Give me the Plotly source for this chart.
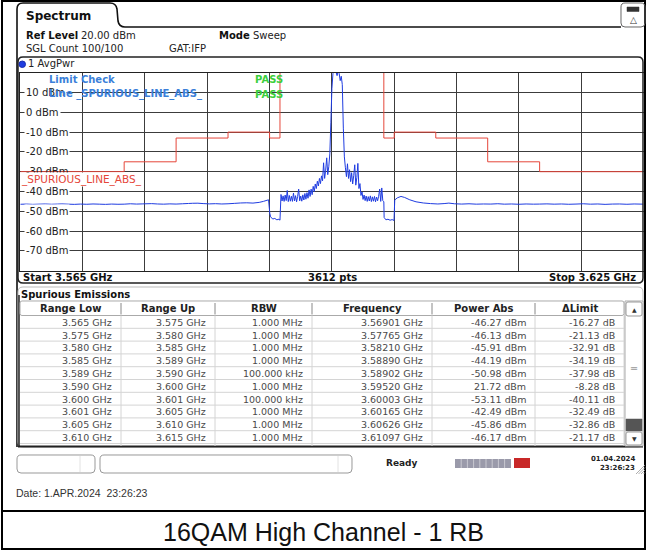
import plotly.graph_objects as go

W, H = 646, 550

# ---------------- data ----------------
freq_start_ghz = 3.565
freq_stop_ghz = 3.625
y_top_dbm = 20
y_bottom_dbm = -80
y_tick_values = [10, 0, -10, -20, -30, -40, -50, -60, -70]
y_tick_labels = ["10 dBm", "0 dBm", "-10 dBm", "-20 dBm", "-30 dBm",
                 "-40 dBm", "-50 dBm", "-60 dBm", "-70 dBm"]

limit_freq_ghz = [3.565, 3.575, 3.580, 3.585, 3.589, 3.590, 3.600, 3.601,
                  3.605, 3.610, 3.615, 3.625]
limit_level_dbm = [-30, -25, -13, -10, -13, 30, -13, -10, -13, -25, -30, -30]

# trace (GHz / dBm)
trace_freq_ghz = [
    3.5650, 3.5656, 3.5662, 3.5668, 3.5674, 3.5680, 3.5686, 3.56901, 3.5696, 3.5702,
    3.5708, 3.5714, 3.5720, 3.5726, 3.5732, 3.5738, 3.5744, 3.5750, 3.5756, 3.5762,
    3.5768, 3.57765, 3.5782, 3.5788, 3.5794, 3.5800, 3.5806, 3.5812, 3.5816, 3.58210,
    3.5826, 3.5832, 3.5838, 3.5844, 3.5850, 3.5856, 3.5862, 3.5868, 3.5874, 3.5880,
    3.5884, 3.58890,
    3.58902, 3.5891, 3.5893, 3.5895, 3.5897, 3.5899, 3.5900,
    3.5901, 3.5902, 3.5903, 3.5904, 3.5905, 3.5906, 3.5907, 3.5908, 3.5909, 3.5910,
    3.5911, 3.5912, 3.5913, 3.5914, 3.5915, 3.5916, 3.5917, 3.5918, 3.5919, 3.5920,
    3.5921, 3.5922, 3.5923, 3.5924, 3.5925, 3.5926, 3.5927, 3.5928, 3.5929, 3.5930,
    3.5931, 3.5932, 3.5933, 3.5934, 3.5935, 3.5936, 3.5937, 3.5938, 3.5939, 3.5940,
    3.5941, 3.5942, 3.5943, 3.5944, 3.5945, 3.5946, 3.5947,
    3.5948, 3.5949, 3.5950, 3.5951, 3.5952, 3.5953, 3.5954, 3.5955, 3.5956, 3.5957,
    3.5958, 3.5959, 3.5960, 3.5961, 3.5962,
    3.5963, 3.5964, 3.5965, 3.5966, 3.5967, 3.5968, 3.5969, 3.5970, 3.5971, 3.5972,
    3.5973, 3.5974, 3.5975, 3.5976, 3.5977, 3.5978, 3.5979, 3.5980, 3.5981, 3.5982,
    3.5983, 3.5984, 3.5985, 3.5986, 3.5987, 3.5988, 3.5989, 3.5990, 3.5991, 3.5992,
    3.5993, 3.5994, 3.5995, 3.5996, 3.5997, 3.5998, 3.5999, 3.6000,
    3.60003, 3.6002, 3.6004, 3.6006, 3.6008, 3.60098,
    3.60105, 3.6013, 3.60165, 3.6020, 3.6025, 3.6031, 3.6038, 3.6045, 3.6052, 3.6058,
    3.60626, 3.6068, 3.6075, 3.6082, 3.6089, 3.6096, 3.6103, 3.61097, 3.6116, 3.6123,
    3.6130, 3.6137, 3.6144, 3.6150, 3.6157, 3.6164, 3.6171, 3.6178, 3.6185, 3.6192,
    3.6199, 3.6206, 3.6213, 3.6220, 3.6227, 3.6234, 3.6241, 3.6250,
]
trace_level_dbm = [
    -46.45, -46.35, -46.50, -46.40, -46.30, -46.45, -46.35, -46.27, -46.40, -46.50,
    -46.35, -46.45, -46.30, -46.40, -46.50, -46.35, -46.45, -46.40, -46.20, -46.35,
    -46.25, -46.13, -46.30, -46.40, -46.25, -46.35, -46.20, -46.05, -45.95, -45.91,
    -46.10, -46.25, -46.15, -46.30, -46.20, -46.00, -45.80, -45.70, -45.85, -45.50,
    -45.00, -44.19,
    -50.98, -52.80, -53.90, -53.60, -54.30, -54.00, -54.50,
    -41.5, -44.8, -42.2, -45.0, -41.8, -44.6, -39.5, -45.1, -42.0, -44.9,
    -42.4, -45.0, -40.8, -44.8, -42.1, -45.2, -42.5, -38.8, -44.7, -42.3,
    -44.9, -41.7, -44.3, -41.0, -43.9, -40.6, -43.4, -39.2, -42.5, -38.8,
    -41.6, -37.4, -40.0, -36.2, -38.5, -34.8, -37.2, -33.4, -36.0, -32.1,
    -34.6, -25.5, -33.4, -29.2, -23.0, -31.5, -27.5,
    -21.0, -5.0, 12.0, 19.5, 21.72, 21.0, 20.3, 18.5, 20.8, 19.6,
    16.0, 18.2, 14.0, -8.0, -22.5,
    -28.0, -32.5, -26.0, -33.4, -29.0, -35.0, -30.5, -36.2, -32.0, -26.5,
    -36.8, -33.0, -25.8, -38.5, -36.0, -42.0, -40.2, -44.0, -41.8, -44.6,
    -42.3, -45.0, -42.6, -44.8, -42.2, -45.1, -42.7, -44.9, -42.5, -45.2,
    -42.8, -44.7, -42.4, -38.8, -45.0, -38.2, -44.6, -45.2,
    -53.11, -54.3, -54.0, -54.5, -54.2, -54.6,
    -44.3, -43.2, -42.49, -43.0, -44.2, -45.2, -45.8, -46.1, -46.3, -46.1,
    -45.86, -46.2, -46.35, -46.2, -46.4, -46.3, -46.35, -46.17, -46.4, -46.3,
    -46.45, -46.3, -46.4, -46.35, -46.25, -46.4, -46.3, -46.45, -46.35, -46.2,
    -46.4, -46.3, -46.5, -46.35, -46.3, -46.45, -46.3, -46.4,
]

table_headers = ["Range Low", "Range Up", "RBW", "Frequency", "Power Abs", "\u0394Limit"]
range_low = ["3.565 GHz", "3.575 GHz", "3.580 GHz", "3.585 GHz", "3.589 GHz",
             "3.590 GHz", "3.600 GHz", "3.601 GHz", "3.605 GHz", "3.610 GHz"]
range_up = ["3.575 GHz", "3.580 GHz", "3.585 GHz", "3.589 GHz", "3.590 GHz",
            "3.600 GHz", "3.601 GHz", "3.605 GHz", "3.610 GHz", "3.615 GHz"]
rbw = ["1.000 MHz", "1.000 MHz", "1.000 MHz", "1.000 MHz", "100.000 kHz",
       "1.000 MHz", "100.000 kHz", "1.000 MHz", "1.000 MHz", "1.000 MHz"]
peak_frequency = ["3.56901 GHz", "3.57765 GHz", "3.58210 GHz", "3.58890 GHz", "3.58902 GHz",
                  "3.59520 GHz", "3.60003 GHz", "3.60165 GHz", "3.60626 GHz", "3.61097 GHz"]
power_abs = ["-46.27 dBm", "-46.13 dBm", "-45.91 dBm", "-44.19 dBm", "-50.98 dBm",
             "21.72 dBm", "-53.11 dBm", "-42.49 dBm", "-45.86 dBm", "-46.17 dBm"]
delta_limit = ["-16.27 dB", "-21.13 dB", "-32.91 dB", "-34.19 dB", "-37.98 dB",
               "-8.28 dB", "-40.11 dB", "-32.49 dB", "-32.86 dB", "-21.17 dB"]

caption = "16QAM High Channel - 1 RB"

# ---------------- helpers ----------------
def X(px):
    return px / W


def Y(py):
    return 1 - py / H


fig = go.Figure()
shapes = []
annotations = []


def line(x0, y0, x1, y1, color="#222", width=1):
    shapes.append(dict(type="line", xref="paper", yref="paper", x0=X(x0), y0=Y(y0),
                       x1=X(x1), y1=Y(y1), line=dict(color=color, width=width)))


def rect(x0, y0, x1, y1, color="#222", width=1, fill=None):
    shapes.append(dict(type="rect", xref="paper", yref="paper", x0=X(x0), y0=Y(y0),
                       x1=X(x1), y1=Y(y1), line=dict(color=color, width=width),
                       fillcolor=fill, layer="above"))


def path(pts_cmds, color="#222", width=1, fill=None):
    s = ""
    for c in pts_cmds:
        if isinstance(c, str):
            s += c + " "
        else:
            s += f"{X(c[0]):.5f},{Y(c[1]):.5f} "
    shapes.append(dict(type="path", xref="paper", yref="paper", path=s.strip(),
                       line=dict(color=color, width=width), fillcolor=fill))


def rrect(x0, y0, x1, y1, r, color="#222", width=1, fill=None):
    path(["M", (x0 + r, y0), "L", (x1 - r, y0), "Q", (x1, y0), (x1, y0 + r),
          "L", (x1, y1 - r), "Q", (x1, y1), (x1 - r, y1), "L", (x0 + r, y1),
          "Q", (x0, y1), (x0, y1 - r), "L", (x0, y0 + r), "Q", (x0, y0), (x0 + r, y0), "Z"],
         color=color, width=width, fill=fill)


def txt(x, y, s, size=10, bold=False, color="#222", anchor="left",
        family="DejaVu Sans", bg=None):
    annotations.append(dict(x=X(x), y=Y(y), xref="paper", yref="paper",
                            text=f"<b>{s}</b>" if bold else s, showarrow=False,
                            xanchor=anchor, yanchor="middle", borderpad=0,
                            font=dict(family=family, size=size, color=color),
                            bgcolor=bg))


# ---------------- traces ----------------
fig.add_trace(go.Scatter(x=limit_freq_ghz, y=limit_level_dbm, mode="lines",
                         line=dict(color="#e5463a", width=1, shape="hv"),
                         hoverinfo="skip"))
fig.add_trace(go.Scatter(x=trace_freq_ghz, y=trace_level_dbm, mode="lines",
                         line=dict(color="#1f3ce0", width=1, simplify=False),
                         hoverinfo="skip"))

# ---------------- frames ----------------
rect(2, 1, 645, 549, color="#000", width=2)
line(2, 511, 645, 511, color="#000", width=2)

path(["M", (17, 447), "L", (17, 9), "Q", (17, 3), (23, 3), "L", (110, 3),
      "Q", (116, 3), (117, 9), "L", (118, 21), "Q", (119, 27), (125, 27), "L", (621, 27)],
     color="#111", width=1.6)
rrect(621, 3, 645, 27, 4, color="#666", width=1)
rect(627, 7, 639, 11.5, color="#333", width=0.5, fill="#333")
txt(633, 20, "\u25b3", size=9, color="#333", anchor="center")

rrect(18, 57, 643, 283, 5, color="#222", width=1.5)

rrect(18, 287, 643, 447, 5, color="#bbb", width=1)
line(18, 446.5, 643, 446.5, color="#222", width=2)
line(19, 295, 19, 446, color="#222", width=1.5)

# ---------------- header texts ----------------
txt(25, 16, "Spectrum", size=12, bold=True, color="#111")
txt(25, 36, "Ref Level", size=10, bold=True, color="#111")
txt(80, 36, "20.00 dBm", size=10, color="#222")
txt(218, 36, "Mode", size=10, bold=True, color="#111")
txt(252, 36, "Sweep", size=10, color="#222")
txt(25, 48, "SGL Count 100/100", size=10, color="#222")
txt(168, 48, "GAT:IFP", size=10, color="#222")
shapes.append(dict(type="circle", xref="paper", yref="paper", x0=X(19), y0=Y(61),
                   x1=X(25.5), y1=Y(67.5), line=dict(color="#1a2fb0", width=1),
                   fillcolor="#1f3ce0"))
txt(27, 64, "1 AvgPwr", size=10, color="#222")

# ---------------- plot axes ----------------
x_dom = [20.3 / W, 643.5 / W]
y_dom = [Y(270.7), Y(72.7)]

for v, lab in zip(y_tick_values, y_tick_labels):
    annotations.append(dict(x=X(24), y=v, xref="paper", yref="y", text=lab,
                            showarrow=False, xanchor="left", yanchor="middle",
                            borderpad=1,
                            bgcolor=None if v == -30 else "white",
                            font=dict(family="DejaVu Sans", size=10, color="#222")))

txt(48, 79, "Limit Check", size=10, bold=True, color="#3b7fd9")
txt(48, 94, "Line _SPURIOUS_LINE_ABS_", size=10, bold=True, color="#3b7fd9")
txt(254, 79, "PASS", size=10, bold=True, color="#3ccf3c")
txt(254, 94, "PASS", size=10, bold=True, color="#3ccf3c")
txt(20, 179, "_SPURIOUS_LINE_ABS_", size=10.5, color="#e5463a", bg="white")

txt(22, 277, "Start 3.565 GHz", size=10, bold=True, color="#111")
txt(332, 277, "3612 pts", size=10, bold=True, color="#111", anchor="center")
txt(637, 277, "Stop 3.625 GHz", size=10, bold=True, color="#111", anchor="right")

# ---------------- table ----------------
txt(20, 294, "Spurious Emissions", size=10, bold=True, color="#111")
col_bounds = [20, 121, 215, 312, 432, 535, 624]
hdr_top, hdr_bot = 301, 315.5
row_h = 12.8
n_rows = len(range_low)

rrect(20, hdr_top, 624, hdr_bot, 2, color="#aaa", width=1)
for cb in col_bounds[1:-1]:
    line(cb, hdr_top + 2, cb, hdr_bot - 1, color="#888", width=1)
for i in range(1, n_rows + 1):
    yy = hdr_bot + row_h * i
    line(20, yy, 624, yy, color="#d4d4d4", width=1)
for cb in col_bounds[1:]:
    line(cb, hdr_bot, cb, 446, color="#d4d4d4", width=1)

for j, h in enumerate(table_headers):
    cx = (col_bounds[j] + col_bounds[j + 1]) / 2
    txt(cx, 308.5, h, size=10, bold=True, color="#222", anchor="center")

columns = [range_low, range_up, rbw, peak_frequency, power_abs, delta_limit]
for j, col in enumerate(columns):
    xr = col_bounds[j + 1] - 8
    for i, val in enumerate(col):
        yc = hdr_bot + row_h * i + row_h / 2 + 0.3
        txt(xr, yc, val, size=9.5, color="#4a4a4a", anchor="right")

rect(625, 301, 643, 446, color="#aaa", width=1, fill="white")
rrect(626, 302, 642, 316, 2, color="#999", width=1)
txt(634, 309, "\u25b2", size=6, color="#333", anchor="center")
txt(634, 368, "\u2550", size=10, color="#999", anchor="center")
rect(626, 419, 642, 431, color="#555", width=0.5, fill="#555")
rrect(626, 432, 642, 445, 2, color="#999", width=1)
txt(634, 438.5, "\u25bc", size=6, color="#333", anchor="center")

# ---------------- status bar ----------------
rrect(17, 455, 95, 473, 4, color="#999", width=1)
line(80, 456, 80, 472, color="#e2e2e2", width=1)
rrect(100, 455, 352, 473, 4, color="#999", width=1)
line(338, 456, 338, 472, color="#e2e2e2", width=1)
txt(402, 463, "Ready", size=9, bold=True, color="#222", anchor="center")
rect(455, 459, 511, 468, color="#9a9aaa", width=0, fill="#9a9aaa")
for k in range(1, 9):
    line(455 + k * 6.2, 459, 455 + k * 6.2, 468, color="#c8c8d0", width=1)
rect(514, 458, 530, 468, color="#c82828", width=0, fill="#c82828")
txt(636, 459, "01.04.2024", size=7, bold=True, color="#222", anchor="right")
txt(636, 468, "23:26:23", size=7, bold=True, color="#222", anchor="right")
for k in range(4):
    line(636 + 2.5 * k, 474, 645, 465 + 2.5 * k, color="#999", width=0.8)

# ---------------- footer ----------------
txt(15, 493, "Date: 1.APR.2024  23:26:23", size=10.5, color="#333",
    family="Liberation Sans")
txt(323, 532, caption, size=25, color="#111", anchor="center", family="Liberation Sans")

fig.update_layout(
    width=W, height=H,
    margin=dict(l=0, r=0, t=0, b=0),
    paper_bgcolor="white", plot_bgcolor="white",
    showlegend=False,
    shapes=shapes, annotations=annotations,
    xaxis=dict(domain=x_dom, range=[freq_start_ghz, freq_stop_ghz], tick0=freq_start_ghz,
               dtick=0.006, showgrid=True, gridcolor="#3c3c3c", gridwidth=1,
               showticklabels=False, ticks="", zeroline=False, showline=True,
               mirror=True, linecolor="#222", linewidth=1, fixedrange=True),
    yaxis=dict(domain=y_dom, range=[y_bottom_dbm, y_top_dbm], tick0=0, dtick=10,
               showgrid=True, gridcolor="#3c3c3c", gridwidth=1,
               showticklabels=False, ticks="", zeroline=False, showline=True,
               mirror=True, linecolor="#222", linewidth=1, fixedrange=True),
)

fig.write_html(
    "out.html",
    config={"displayModeBar": False},
    post_script="document.body.style.margin='0';document.body.style.overflow='hidden';",
)
